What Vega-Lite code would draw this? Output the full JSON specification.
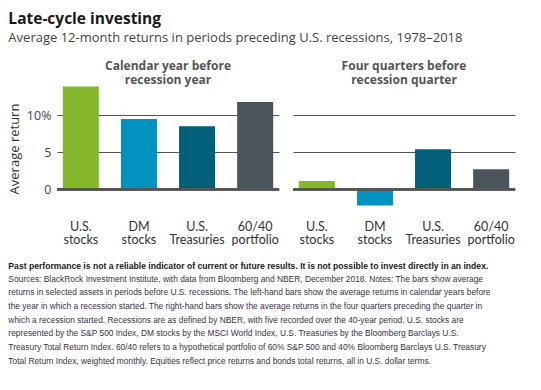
{
  "$schema": "https://vega.github.io/schema/vega-lite/v6.json",
  "background": "white",
  "padding": {"left": 8, "top": 12, "right": 0, "bottom": 0},
  "title": {
    "text": "Late-cycle investing",
    "subtitle": "Average 12-month returns in periods preceding U.S. recessions, 1978–2018",
    "anchor": "start",
    "frame": "bounds",
    "font": "Open Sans",
    "fontSize": 15.5,
    "fontWeight": "bold",
    "color": "#1a1a1a",
    "subtitleFont": "Open Sans",
    "subtitleFontSize": 13,
    "subtitleColor": "#444444",
    "subtitlePadding": 4,
    "offset": 15
  },
  "config": {
    "view": {"stroke": null},
    "font": "Open Sans"
  },
  "vconcat": [
    {
      "data": {
        "values": [
          {"period": "Calendar year before|recession year", "asset": "U.S.|stocks", "value": 13.9},
          {"period": "Calendar year before|recession year", "asset": "DM|stocks", "value": 9.5},
          {"period": "Calendar year before|recession year", "asset": "U.S.|Treasuries", "value": 8.5},
          {"period": "Calendar year before|recession year", "asset": "60/40|portfolio", "value": 11.8},
          {"period": "Four quarters before|recession quarter", "asset": "U.S.|stocks", "value": 1.1},
          {"period": "Four quarters before|recession quarter", "asset": "DM|stocks", "value": -2.2},
          {"period": "Four quarters before|recession quarter", "asset": "U.S.|Treasuries", "value": 5.4},
          {"period": "Four quarters before|recession quarter", "asset": "60/40|portfolio", "value": 2.7}
        ]
      },
      "title": {
        "text": "Past performance is not a reliable indicator of current or future results. It is not possible to invest directly in an index.",
        "subtitle": [
          "Sources: BlackRock Investment Institute, with data from Bloomberg and NBER, December 2018. Notes: The bars show average",
          "returns in selected assets in periods before U.S. recessions. The left-hand bars show the average returns in calendar years before",
          "the year in which a recession started. The right-hand bars show the average returns in the four quarters preceding the quarter in",
          "which a recession started. Recessions are as defined by NBER, with five recorded over the 40-year period. U.S. stocks are",
          "represented by the S&P 500 Index, DM stocks by the MSCI World Index, U.S. Treasuries by the Bloomberg Barclays U.S.",
          "Treasury Total Return Index. 60/40 refers to a hypothetical portfolio of 60% S&P 500 and 40% Bloomberg Barclays U.S. Treasury",
          "Total Return Index, weighted monthly. Equities reflect price returns and bonds total returns, all in U.S. dollar terms."
        ],
        "orient": "bottom",
        "anchor": "start",
        "frame": "bounds",
        "font": "Liberation Sans",
        "fontSize": 8.6,
        "fontWeight": "bold",
        "color": "#1a1a1a",
        "subtitleFont": "Liberation Sans",
        "subtitleFontSize": 8.4,
        "subtitleColor": "#3b3347",
        "subtitleLineHeight": 13.7,
        "subtitlePadding": 4,
        "offset": 16
      },
      "facet": {
        "column": {
          "field": "period",
          "type": "nominal",
          "sort": ["Calendar year before|recession year", "Four quarters before|recession quarter"],
          "title": null,
          "header": {
            "labelExpr": "split(datum.label, '|')",
            "labelFont": "Open Sans",
            "labelFontSize": 12,
            "labelFontWeight": "bold",
            "labelColor": "#555555",
            "labelLineHeight": 14.5,
            "labelPadding": -5
          }
        }
      },
      "spacing": 10,
      "spec": {
        "width": 222,
        "height": 133,
        "layer": [
          {
            "mark": {"type": "bar"},
            "encoding": {
              "x": {
                "field": "asset",
                "type": "nominal",
                "sort": ["U.S.|stocks", "DM|stocks", "U.S.|Treasuries", "60/40|portfolio"],
                "scale": {"paddingInner": 0.38, "paddingOuter": 0.1},
                "axis": {
                  "title": null,
                  "labelExpr": "split(datum.label, '|')",
                  "labelAngle": 0,
                  "labelFont": "Lato",
                  "labelFontSize": 12.5,
                  "labelColor": "#333333",
                  "labelLineHeight": 13.5,
                  "labelPadding": 5,
                  "ticks": false,
                  "tickSize": 0,
                  "domain": false
                }
              },
              "y": {
                "field": "value",
                "type": "quantitative",
                "scale": {"domain": [-3.5, 14.5], "nice": false},
                "axis": {
                  "title": "Average return",
                  "titleFont": "Open Sans",
                  "titleFontSize": 13,
                  "titleFontWeight": "normal",
                  "titleColor": "#333333",
                  "titlePadding": 5,
                  "values": [0, 5, 10],
                  "labelExpr": "datum.value == 10 ? '10%' : datum.label",
                  "labelFont": "Open Sans",
                  "labelFontSize": 12.5,
                  "labelColor": "#4b3b4f",
                  "labelPadding": 4,
                  "ticks": false,
                  "tickSize": 0,
                  "domain": false,
                  "grid": true,
                  "gridColor": "#555555",
                  "gridWidth": 1
                }
              },
              "color": {
                "field": "asset",
                "type": "nominal",
                "scale": {
                  "domain": ["U.S.|stocks", "DM|stocks", "U.S.|Treasuries", "60/40|portfolio"],
                  "range": ["#84b82a", "#0093c0", "#00607a", "#4a545b"]
                },
                "legend": null
              }
            }
          },
          {
            "mark": {"type": "rule", "color": "#555555", "strokeWidth": 2.5},
            "encoding": {"y": {"datum": 0}}
          }
        ]
      }
    }
  ]
}
